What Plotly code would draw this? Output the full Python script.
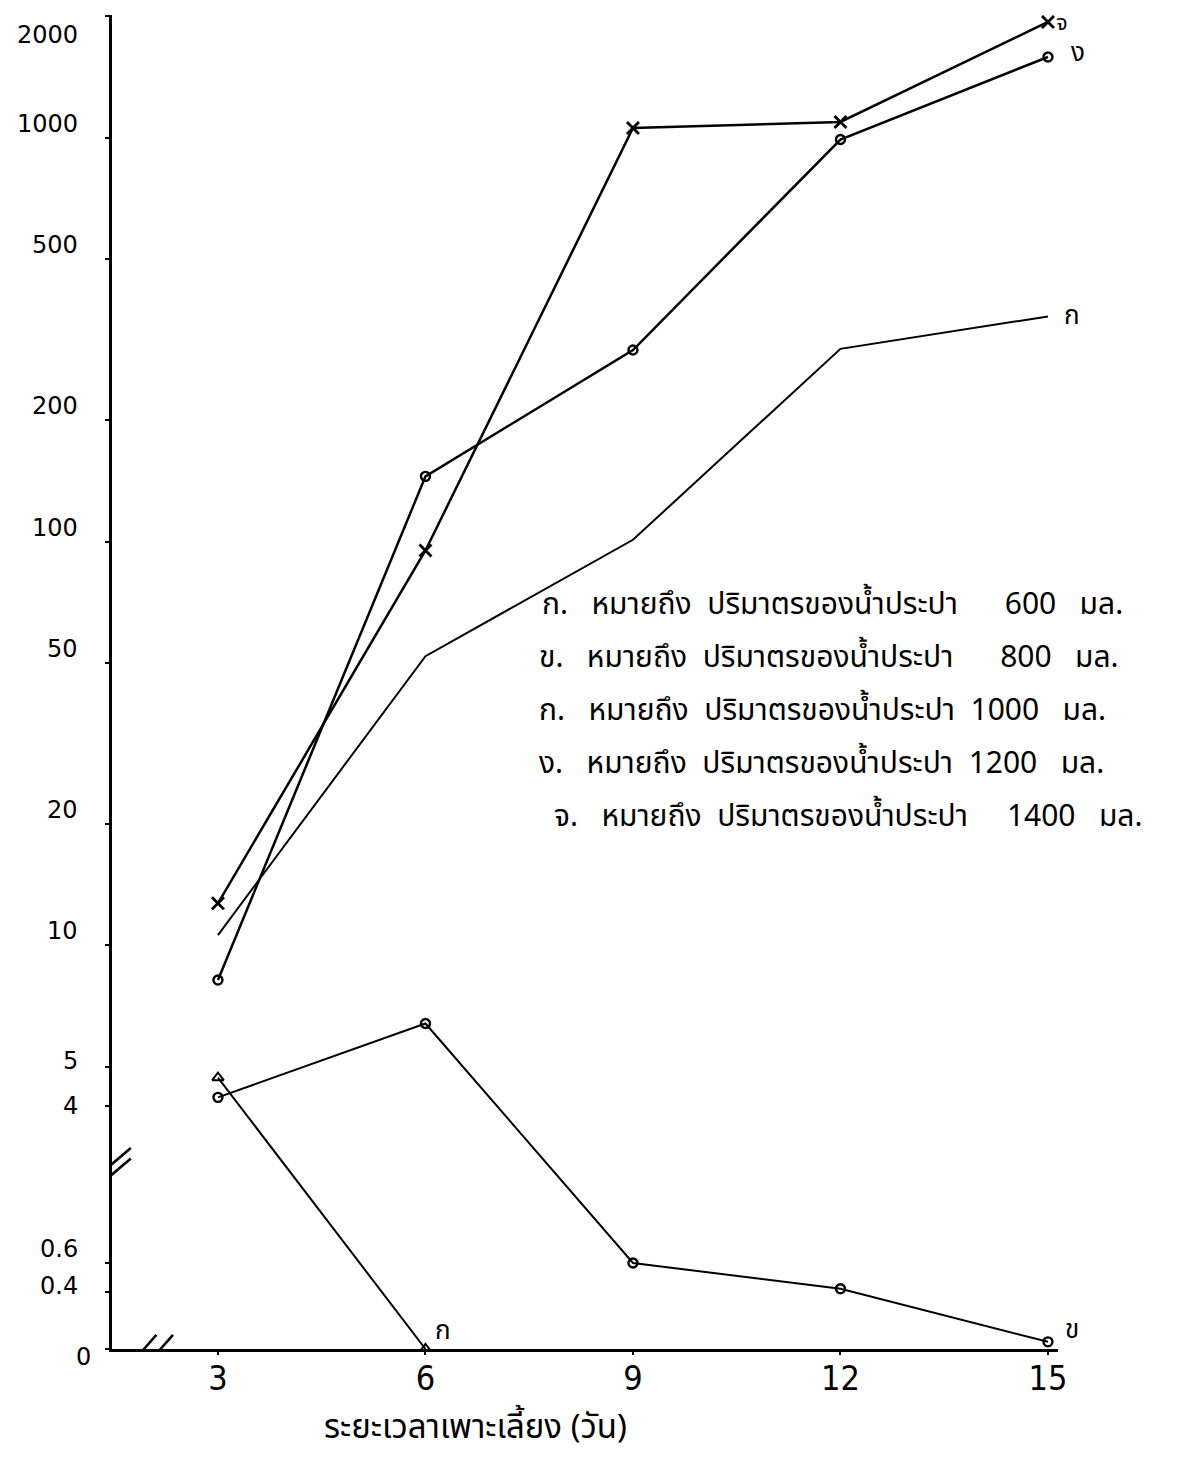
import math
import plotly.graph_objects as go

# ---------------- data ----------------
days = [3, 6, 9, 12, 15]
vol_600 = [4.7, 0.0, None, None, None]          # ก. 600 มล.
vol_800 = [4.2, 6.4, 0.60, 0.42, 0.05]           # ข. 800 มล.
vol_1000 = [10.6, 52, 101, 300, 361]             # ค. 1000 มล.
vol_1200 = [8.2, 145, 298, 990, 1585]            # ง. 1200 มล.
vol_1400 = [12.7, 95, 1057, 1094, 1936]          # จ. 1400 มล.

y_tick_values = [0, 0.4, 0.6, 4, 5, 10, 20, 50, 100, 200, 500, 1000, 2000]
y_tick_labels = ["0", "0.4", "0.6", "4", "5", "10", "20", "50", "100", "200", "500", "1000", "2000"]
x_tick_values = [3, 6, 9, 12, 15]

NB = "\u00a0"
legend_lines = [
    "ก." + NB * 3 + "หมายถึง" + NB * 2 + "ปริมาตรของน้ำประปา" + NB * 6 + "600" + NB * 3 + "มล.",
    "ข." + NB * 3 + "หมายถึง" + NB * 2 + "ปริมาตรของน้ำประปา" + NB * 6 + "800" + NB * 3 + "มล.",
    "ก." + NB * 3 + "หมายถึง" + NB * 2 + "ปริมาตรของน้ำประปา" + NB * 2 + "1000" + NB * 3 + "มล.",
    "ง." + NB * 3 + "หมายถึง" + NB * 2 + "ปริมาตรของน้ำประปา" + NB * 2 + "1200" + NB * 3 + "มล.",
    "จ." + NB * 3 + "หมายถึง" + NB * 2 + "ปริมาตรของน้ำประปา" + NB * 5 + "1400" + NB * 3 + "มล.",
]
x_title = "ระยะเวลาเพาะเลี้ยง" + NB + "(วัน)"

# ---------------- broken y scale: linear below the break, log above ----------------
LOW_SLOPE = 0.355      # axis units per unit value in the linear (lower) part
LOG_FROM = 2.5         # values at/above this use the log part


def yscale(v):
    if v is None:
        return None
    if v >= LOG_FROM:
        return math.log10(v)
    return LOW_SLOPE * v


THAI = "Noto Sans Thai, Noto Sans Thai UI, Loma, Garuda, Tlwg Typist, Norasi, sans-serif"
NUM = "DejaVu Sans, Noto Sans, sans-serif"

# page body has an 8px margin; layout works in reference pixels minus that offset
OFF = 8
W, H = 1182 - 2 * OFF, 1462 - 2 * OFF
PLOT_L, PLOT_R, PLOT_T, PLOT_B = 112 - OFF, 1058 - OFF, 15 - OFF, 1349 - OFF
XMIN, XMAX = 1.468, 15.145
YMAX = math.log10(2000) + 0.003

fig = go.Figure()

series = [
    (vol_1000, "lines", None, 2.0),
    (vol_600, "lines+markers", dict(symbol="triangle-up-open", size=10, color="black", line=dict(width=2, color="black")), 2.0),
    (vol_800, "lines+markers", dict(symbol="circle-open", size=9, color="black", line=dict(width=2.4, color="black")), 2.0),
    (vol_1200, "lines+markers", dict(symbol="circle-open", size=9, color="black", line=dict(width=2.4, color="black")), 2.5),
    (vol_1400, "lines+markers", dict(symbol="x-thin-open", size=12, color="black", line=dict(width=2.8, color="black")), 2.5),
]
for vals, mode, marker, lw in series:
    xs = [d for d, v in zip(days, vals) if v is not None]
    ys = [yscale(v) for v in vals if v is not None]
    tr = dict(x=xs, y=ys, mode=mode, line=dict(color="black", width=lw), showlegend=False,
              hoverinfo="skip")
    if marker:
        tr["marker"] = marker
    fig.add_trace(go.Scatter(**tr))

# end-of-line labels
end_labels = [
    (15, vol_1400[4], "จ", 14, -2, 22),
    (15, vol_1200[4], "ง", 30, 4, 26),
    (15, vol_1000[4], "ก", 24, 0, 26),
    (6, vol_600[1], "ก", 18, 18, 26),
    (15, vol_800[4], "ข", 24, 12, 26),
]
for xd, v, t, xs_, ys_, fs in end_labels:
    fig.add_annotation(x=xd, y=yscale(v), xref="x", yref="y", text=t, showarrow=False,
                       xshift=xs_, yshift=ys_, font=dict(family=THAI, size=fs, color="black"))

# y tick labels (hand-lettered in the original: drawn a little above their ticks)
label_yshift = {"2000": -19, "5": 6, "4": 0, "0.4": 6, "0": -8}
label_right = {"0": 93}
for v, lab in zip(y_tick_values, y_tick_labels):
    right_px = label_right.get(lab, 80) - OFF
    fig.add_annotation(x=0, xref="paper", y=yscale(v), yref="y", text=lab, showarrow=False,
                       xanchor="right", yanchor="middle", xshift=right_px - PLOT_L,
                       yshift=label_yshift.get(lab, 14),
                       font=dict(family=NUM, size=24, color="black"))

# legend text block
leg_pos = [(540, 605), (537, 658), (537, 711), (537, 764), (552, 817)]
for txt, (xpx, ypx) in zip(legend_lines, leg_pos):
    fig.add_annotation(x=(xpx - OFF - PLOT_L) / (PLOT_R - PLOT_L),
                       y=(PLOT_B - (ypx - OFF)) / (PLOT_B - PLOT_T),
                       xref="paper", yref="paper", text=txt, showarrow=False,
                       xanchor="left", yanchor="middle",
                       font=dict(family=THAI, size=30, color="black"))

# x axis title
fig.add_annotation(x=(475 - OFF - PLOT_L) / (PLOT_R - PLOT_L),
                   y=-((1428 - OFF) - PLOT_B) / (PLOT_B - PLOT_T),
                   xref="paper", yref="paper", text=x_title, showarrow=False,
                   xanchor="center", yanchor="middle",
                   font=dict(family=THAI, size=33, color="black"))

# break marks (axis decoration)
yb = 0.455
for dy in (-0.013, 0.013):
    fig.add_shape(type="line", xref="x", yref="y",
                  x0=1.33, x1=1.74, y0=yb + dy - 0.03, y1=yb + dy + 0.03,
                  line=dict(color="black", width=2.5))
for dx in (-0.12, 0.12):
    fig.add_shape(type="line", xref="x", yref="y",
                  x0=2.05 + dx - 0.18, x1=2.05 + dx + 0.18, y0=-0.035, y1=0.035,
                  line=dict(color="black", width=2.5))

fig.update_xaxes(
    range=[XMIN, XMAX], tickvals=x_tick_values, ticktext=[str(v) for v in x_tick_values],
    showgrid=False, zeroline=False, showline=True, linecolor="black", linewidth=2.5,
    ticks="outside", ticklen=3, tickwidth=2, tickcolor="black",
    tickfont=dict(family="Liberation Sans Narrow, DejaVu Sans Condensed, sans-serif", size=34, color="black"),
    ticklabelstandoff=-6,
)
fig.update_yaxes(
    range=[0, YMAX],
    tickvals=[yscale(v) for v in y_tick_values], ticktext=[""] * len(y_tick_values),
    showgrid=False, zeroline=False, showline=True, linecolor="black", linewidth=3,
    ticks="outside", ticklen=4, tickwidth=2, tickcolor="black",
)
fig.update_layout(
    width=W, height=H,
    margin=dict(l=PLOT_L, r=W - PLOT_R, t=PLOT_T, b=H - PLOT_B),
    paper_bgcolor="white", plot_bgcolor="white",
)
fig.write_html("out.html")
